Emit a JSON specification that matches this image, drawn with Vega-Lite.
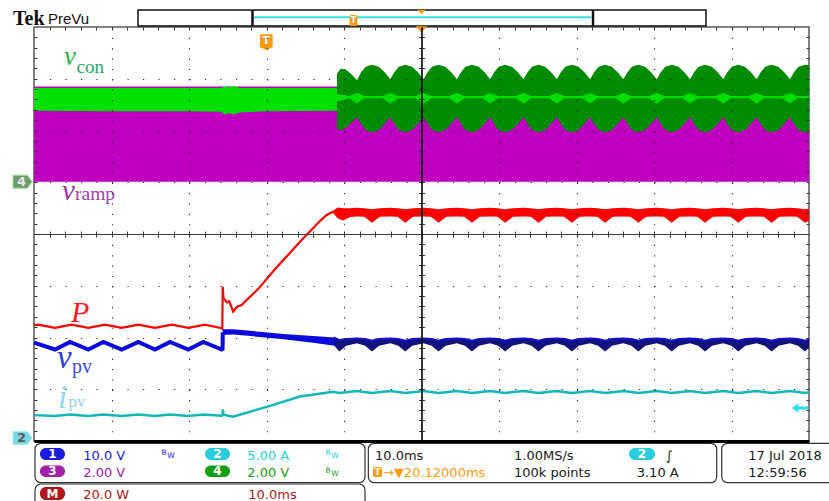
{
"$schema": "https://vega.github.io/schema/vega-lite/v6.json",
"width": 775,
"height": 414,
"autosize": {"type": "none"},
"padding": {"left": 34, "top": 27, "right": 20, "bottom": 60},
"background": "white",
"config": {"view": {"stroke": "#5a5a5a", "strokeWidth": 1.5}, "axis": {"labels": false, "title": null, "ticks": false, "domain": false, "grid": false}},
"datasets": {
"pu": [{"t":0,"v":2.85,"v2":1.01},{"t":100,"v":2.85,"v2":1.01}],
"lg1": [{"t":0,"v":2.82,"v2":2.38},{"t":10,"v":2.82,"v2":2.37},{"t":20,"v":2.82,"v2":2.37},{"t":24.2,"v":2.82,"v2":2.36},{"t":24.6,"v":2.86,"v2":2.31},{"t":25.2,"v":2.83,"v2":2.34},{"t":25.8,"v":2.86,"v2":2.31},{"t":26.5,"v":2.82,"v2":2.35},{"t":30,"v":2.82,"v2":2.37},{"t":39.1,"v":2.82,"v2":2.38}],
"dg": [{"t":39.1,"v":3.1,"v2":2.04},{"t":39.6,"v":3.2,"v2":2.0},{"t":40.3,"v":3.17,"v2":2.06},{"t":41.0,"v":3.08,"v2":2.16},{"t":41.68,"v":2.97,"v2":2.26},{"t":42.18,"v":3.12,"v2":2.13},{"t":42.78,"v":3.23,"v2":2.01},{"t":43.62,"v":3.27,"v2":1.96},{"t":44.48,"v":3.23,"v2":2.01},{"t":45.28,"v":3.12,"v2":2.13},{"t":45.97,"v":2.99,"v2":2.26},{"t":46.47,"v":3.12,"v2":2.13},{"t":47.07,"v":3.23,"v2":2.01},{"t":47.91,"v":3.27,"v2":1.96},{"t":48.77,"v":3.23,"v2":2.01},{"t":49.57,"v":3.12,"v2":2.13},{"t":50.27,"v":2.99,"v2":2.26},{"t":50.77,"v":3.12,"v2":2.13},{"t":51.37,"v":3.23,"v2":2.01},{"t":52.21,"v":3.27,"v2":1.96},{"t":53.07,"v":3.23,"v2":2.01},{"t":53.87,"v":3.12,"v2":2.13},{"t":54.57,"v":2.99,"v2":2.26},{"t":55.07,"v":3.12,"v2":2.13},{"t":55.67,"v":3.23,"v2":2.01},{"t":56.51,"v":3.27,"v2":1.96},{"t":57.37,"v":3.23,"v2":2.01},{"t":58.17,"v":3.12,"v2":2.13},{"t":58.86,"v":2.99,"v2":2.26},{"t":59.36,"v":3.12,"v2":2.13},{"t":59.96,"v":3.23,"v2":2.01},{"t":60.8,"v":3.27,"v2":1.96},{"t":61.66,"v":3.23,"v2":2.01},{"t":62.46,"v":3.12,"v2":2.13},{"t":63.16,"v":2.99,"v2":2.26},{"t":63.66,"v":3.12,"v2":2.13},{"t":64.26,"v":3.23,"v2":2.01},{"t":65.1,"v":3.27,"v2":1.96},{"t":65.96,"v":3.23,"v2":2.01},{"t":66.76,"v":3.12,"v2":2.13},{"t":67.46,"v":2.99,"v2":2.26},{"t":67.96,"v":3.12,"v2":2.13},{"t":68.56,"v":3.23,"v2":2.01},{"t":69.4,"v":3.27,"v2":1.96},{"t":70.26,"v":3.23,"v2":2.01},{"t":71.06,"v":3.12,"v2":2.13},{"t":71.75,"v":2.99,"v2":2.26},{"t":72.25,"v":3.12,"v2":2.13},{"t":72.85,"v":3.23,"v2":2.01},{"t":73.69,"v":3.27,"v2":1.96},{"t":74.55,"v":3.23,"v2":2.01},{"t":75.35,"v":3.12,"v2":2.13},{"t":76.05,"v":2.99,"v2":2.26},{"t":76.55,"v":3.12,"v2":2.13},{"t":77.15,"v":3.23,"v2":2.01},{"t":77.99,"v":3.27,"v2":1.96},{"t":78.85,"v":3.23,"v2":2.01},{"t":79.65,"v":3.12,"v2":2.13},{"t":80.35,"v":2.99,"v2":2.26},{"t":80.85,"v":3.12,"v2":2.13},{"t":81.45,"v":3.23,"v2":2.01},{"t":82.29,"v":3.27,"v2":1.96},{"t":83.15,"v":3.23,"v2":2.01},{"t":83.95,"v":3.12,"v2":2.13},{"t":84.65,"v":2.99,"v2":2.26},{"t":85.15,"v":3.12,"v2":2.13},{"t":85.75,"v":3.23,"v2":2.01},{"t":86.59,"v":3.27,"v2":1.96},{"t":87.45,"v":3.23,"v2":2.01},{"t":88.25,"v":3.12,"v2":2.13},{"t":88.94,"v":2.99,"v2":2.26},{"t":89.44,"v":3.12,"v2":2.13},{"t":90.04,"v":3.23,"v2":2.01},{"t":90.88,"v":3.27,"v2":1.96},{"t":91.74,"v":3.23,"v2":2.01},{"t":92.54,"v":3.12,"v2":2.13},{"t":93.24,"v":2.99,"v2":2.26},{"t":93.74,"v":3.12,"v2":2.13},{"t":94.34,"v":3.23,"v2":2.01},{"t":95.18,"v":3.27,"v2":1.96},{"t":96.04,"v":3.23,"v2":2.01},{"t":96.84,"v":3.12,"v2":2.13},{"t":97.54,"v":2.99,"v2":2.26},{"t":98.04,"v":3.12,"v2":2.13},{"t":98.64,"v":3.23,"v2":2.01},{"t":99.48,"v":3.27,"v2":1.96},{"t":100,"v":3.26,"v2":1.97}],
"lg2": [{"t":39.1,"v":2.7,"v2":2.56},{"t":40.2,"v":2.68,"v2":2.6},{"t":40.68,"v":2.665,"v2":2.625},{"t":41.68,"v":2.725,"v2":2.52},{"t":42.68,"v":2.665,"v2":2.625},{"t":44.97,"v":2.665,"v2":2.625},{"t":45.97,"v":2.725,"v2":2.52},{"t":46.97,"v":2.665,"v2":2.625},{"t":49.27,"v":2.665,"v2":2.625},{"t":50.27,"v":2.725,"v2":2.52},{"t":51.27,"v":2.665,"v2":2.625},{"t":53.57,"v":2.665,"v2":2.625},{"t":54.57,"v":2.725,"v2":2.52},{"t":55.57,"v":2.665,"v2":2.625},{"t":57.86,"v":2.665,"v2":2.625},{"t":58.86,"v":2.725,"v2":2.52},{"t":59.86,"v":2.665,"v2":2.625},{"t":62.16,"v":2.665,"v2":2.625},{"t":63.16,"v":2.725,"v2":2.52},{"t":64.16,"v":2.665,"v2":2.625},{"t":66.46,"v":2.665,"v2":2.625},{"t":67.46,"v":2.725,"v2":2.52},{"t":68.46,"v":2.665,"v2":2.625},{"t":70.75,"v":2.665,"v2":2.625},{"t":71.75,"v":2.725,"v2":2.52},{"t":72.75,"v":2.665,"v2":2.625},{"t":75.05,"v":2.665,"v2":2.625},{"t":76.05,"v":2.725,"v2":2.52},{"t":77.05,"v":2.665,"v2":2.625},{"t":79.35,"v":2.665,"v2":2.625},{"t":80.35,"v":2.725,"v2":2.52},{"t":81.35,"v":2.665,"v2":2.625},{"t":83.65,"v":2.665,"v2":2.625},{"t":84.65,"v":2.725,"v2":2.52},{"t":85.65,"v":2.665,"v2":2.625},{"t":87.94,"v":2.665,"v2":2.625},{"t":88.94,"v":2.725,"v2":2.52},{"t":89.94,"v":2.665,"v2":2.625},{"t":92.24,"v":2.665,"v2":2.625},{"t":93.24,"v":2.725,"v2":2.52},{"t":94.24,"v":2.665,"v2":2.625},{"t":96.54,"v":2.665,"v2":2.625},{"t":97.54,"v":2.725,"v2":2.52},{"t":98.54,"v":2.665,"v2":2.625},{"t":100,"v":2.66,"v2":2.63}],
"rl": [{"t":0,"v":-1.76},{"t":0.52,"v":-1.75},{"t":2.71,"v":-1.815},{"t":4.84,"v":-1.75},{"t":7.01,"v":-1.815},{"t":9.16,"v":-1.75},{"t":11.32,"v":-1.815},{"t":13.46,"v":-1.75},{"t":15.61,"v":-1.815},{"t":17.77,"v":-1.75},{"t":19.91,"v":-1.815},{"t":22.06,"v":-1.75},{"t":24.22,"v":-1.82},{"t":24.3,"v":-1.83},{"t":24.35,"v":-1.02},{"t":24.45,"v":-1.24},{"t":24.9,"v":-1.32},{"t":25.2,"v":-1.3},{"t":25.7,"v":-1.5},{"t":26.2,"v":-1.405},{"t":26.8,"v":-1.372},{"t":27.45,"v":-1.275},{"t":29.0,"v":-1.05},{"t":30.97,"v":-0.7},{"t":32.8,"v":-0.4},{"t":34.54,"v":-0.116},{"t":36.9,"v":0.25},{"t":37.76,"v":0.367},{"t":38.58,"v":0.43}],
"rb": [{"t":38.58,"v":0.45,"v2":0.41},{"t":39.2,"v":0.51,"v2":0.3},{"t":39.9,"v":0.5,"v2":0.26},{"t":40.8,"v":0.5,"v2":0.33},{"t":41.68,"v":0.505,"v2":0.34},{"t":42.62,"v":0.5,"v2":0.335},{"t":43.62,"v":0.48,"v2":0.215},{"t":44.62,"v":0.5,"v2":0.335},{"t":45.97,"v":0.505,"v2":0.34},{"t":46.91,"v":0.5,"v2":0.335},{"t":47.91,"v":0.48,"v2":0.215},{"t":48.91,"v":0.5,"v2":0.335},{"t":50.27,"v":0.505,"v2":0.34},{"t":51.21,"v":0.5,"v2":0.335},{"t":52.21,"v":0.48,"v2":0.215},{"t":53.21,"v":0.5,"v2":0.335},{"t":54.57,"v":0.505,"v2":0.34},{"t":55.51,"v":0.5,"v2":0.335},{"t":56.51,"v":0.48,"v2":0.215},{"t":57.51,"v":0.5,"v2":0.335},{"t":58.86,"v":0.505,"v2":0.34},{"t":59.8,"v":0.5,"v2":0.335},{"t":60.8,"v":0.48,"v2":0.215},{"t":61.8,"v":0.5,"v2":0.335},{"t":63.16,"v":0.505,"v2":0.34},{"t":64.1,"v":0.5,"v2":0.335},{"t":65.1,"v":0.48,"v2":0.215},{"t":66.1,"v":0.5,"v2":0.335},{"t":67.46,"v":0.505,"v2":0.34},{"t":68.4,"v":0.5,"v2":0.335},{"t":69.4,"v":0.48,"v2":0.215},{"t":70.4,"v":0.5,"v2":0.335},{"t":71.75,"v":0.505,"v2":0.34},{"t":72.69,"v":0.5,"v2":0.335},{"t":73.69,"v":0.48,"v2":0.215},{"t":74.69,"v":0.5,"v2":0.335},{"t":76.05,"v":0.505,"v2":0.34},{"t":76.99,"v":0.5,"v2":0.335},{"t":77.99,"v":0.48,"v2":0.215},{"t":78.99,"v":0.5,"v2":0.335},{"t":80.35,"v":0.505,"v2":0.34},{"t":81.29,"v":0.5,"v2":0.335},{"t":82.29,"v":0.48,"v2":0.215},{"t":83.29,"v":0.5,"v2":0.335},{"t":84.65,"v":0.505,"v2":0.34},{"t":85.59,"v":0.5,"v2":0.335},{"t":86.59,"v":0.48,"v2":0.215},{"t":87.59,"v":0.5,"v2":0.335},{"t":88.94,"v":0.505,"v2":0.34},{"t":89.88,"v":0.5,"v2":0.335},{"t":90.88,"v":0.48,"v2":0.215},{"t":91.88,"v":0.5,"v2":0.335},{"t":93.24,"v":0.505,"v2":0.34},{"t":94.18,"v":0.5,"v2":0.335},{"t":95.18,"v":0.48,"v2":0.215},{"t":96.18,"v":0.5,"v2":0.335},{"t":97.54,"v":0.505,"v2":0.34},{"t":98.48,"v":0.5,"v2":0.335},{"t":99.48,"v":0.48,"v2":0.215},{"t":100,"v":0.49,"v2":0.25}],
"bl": [{"t":0,"v":-2.1},{"t":2.71,"v":-2.232},{"t":4.65,"v":-2.087},{"t":7.01,"v":-2.232},{"t":8.94,"v":-2.087},{"t":11.32,"v":-2.232},{"t":13.46,"v":-2.087},{"t":15.61,"v":-2.232},{"t":17.55,"v":-2.087},{"t":19.91,"v":-2.232},{"t":21.85,"v":-2.087},{"t":24.22,"v":-2.232},{"t":24.33,"v":-2.22},{"t":24.36,"v":-1.9}],
"bd": [{"t":24.35,"v":-1.84,"v2":-1.95},{"t":25.7,"v":-1.84,"v2":-1.94},{"t":32.2,"v":-1.93,"v2":-2.035},{"t":36.0,"v":-1.97,"v2":-2.1},{"t":38.8,"v":-2.0,"v2":-2.16}],
"nb": [{"t":38.7,"v":-2.0,"v2":-2.15},{"t":39.4,"v":-2.05,"v2":-2.27},{"t":40.3,"v":-2.03,"v2":-2.16},{"t":41.68,"v":-2.02,"v2":-2.11},{"t":42.72,"v":-2.03,"v2":-2.16},{"t":43.62,"v":-2.06,"v2":-2.27},{"t":44.52,"v":-2.03,"v2":-2.16},{"t":45.97,"v":-2.02,"v2":-2.11},{"t":47.01,"v":-2.03,"v2":-2.16},{"t":47.91,"v":-2.06,"v2":-2.27},{"t":48.81,"v":-2.03,"v2":-2.16},{"t":50.27,"v":-2.02,"v2":-2.11},{"t":51.31,"v":-2.03,"v2":-2.16},{"t":52.21,"v":-2.06,"v2":-2.27},{"t":53.11,"v":-2.03,"v2":-2.16},{"t":54.57,"v":-2.02,"v2":-2.11},{"t":55.61,"v":-2.03,"v2":-2.16},{"t":56.51,"v":-2.06,"v2":-2.27},{"t":57.41,"v":-2.03,"v2":-2.16},{"t":58.86,"v":-2.02,"v2":-2.11},{"t":59.9,"v":-2.03,"v2":-2.16},{"t":60.8,"v":-2.06,"v2":-2.27},{"t":61.7,"v":-2.03,"v2":-2.16},{"t":63.16,"v":-2.02,"v2":-2.11},{"t":64.2,"v":-2.03,"v2":-2.16},{"t":65.1,"v":-2.06,"v2":-2.27},{"t":66.0,"v":-2.03,"v2":-2.16},{"t":67.46,"v":-2.02,"v2":-2.11},{"t":68.5,"v":-2.03,"v2":-2.16},{"t":69.4,"v":-2.06,"v2":-2.27},{"t":70.3,"v":-2.03,"v2":-2.16},{"t":71.75,"v":-2.02,"v2":-2.11},{"t":72.79,"v":-2.03,"v2":-2.16},{"t":73.69,"v":-2.06,"v2":-2.27},{"t":74.59,"v":-2.03,"v2":-2.16},{"t":76.05,"v":-2.02,"v2":-2.11},{"t":77.09,"v":-2.03,"v2":-2.16},{"t":77.99,"v":-2.06,"v2":-2.27},{"t":78.89,"v":-2.03,"v2":-2.16},{"t":80.35,"v":-2.02,"v2":-2.11},{"t":81.39,"v":-2.03,"v2":-2.16},{"t":82.29,"v":-2.06,"v2":-2.27},{"t":83.19,"v":-2.03,"v2":-2.16},{"t":84.65,"v":-2.02,"v2":-2.11},{"t":85.69,"v":-2.03,"v2":-2.16},{"t":86.59,"v":-2.06,"v2":-2.27},{"t":87.49,"v":-2.03,"v2":-2.16},{"t":88.94,"v":-2.02,"v2":-2.11},{"t":89.98,"v":-2.03,"v2":-2.16},{"t":90.88,"v":-2.06,"v2":-2.27},{"t":91.78,"v":-2.03,"v2":-2.16},{"t":93.24,"v":-2.02,"v2":-2.11},{"t":94.28,"v":-2.03,"v2":-2.16},{"t":95.18,"v":-2.06,"v2":-2.27},{"t":96.08,"v":-2.03,"v2":-2.16},{"t":97.54,"v":-2.02,"v2":-2.11},{"t":98.58,"v":-2.03,"v2":-2.16},{"t":99.48,"v":-2.06,"v2":-2.27},{"t":100,"v":-2.04,"v2":-2.2}],
"cy": [{"t":0,"v":-3.5},{"t":2.71,"v":-3.515},{"t":4.65,"v":-3.49},{"t":7.01,"v":-3.515},{"t":8.94,"v":-3.49},{"t":11.32,"v":-3.515},{"t":13.46,"v":-3.49},{"t":15.61,"v":-3.515},{"t":17.55,"v":-3.49},{"t":19.91,"v":-3.515},{"t":21.85,"v":-3.49},{"t":24.22,"v":-3.51},{"t":24.33,"v":-3.5},{"t":24.36,"v":-3.39},{"t":24.45,"v":-3.49},{"t":25.68,"v":-3.53},{"t":30.02,"v":-3.34},{"t":34.32,"v":-3.14},{"t":38.6,"v":-3.05},{"t":39.4,"v":-3.07},{"t":41.68,"v":-3.035},{"t":43.62,"v":-3.07},{"t":45.97,"v":-3.035},{"t":47.91,"v":-3.07},{"t":50.27,"v":-3.035},{"t":52.21,"v":-3.07},{"t":54.57,"v":-3.035},{"t":56.51,"v":-3.07},{"t":58.86,"v":-3.035},{"t":60.8,"v":-3.07},{"t":63.16,"v":-3.035},{"t":65.1,"v":-3.07},{"t":67.46,"v":-3.035},{"t":69.4,"v":-3.07},{"t":71.75,"v":-3.035},{"t":73.69,"v":-3.07},{"t":76.05,"v":-3.035},{"t":77.99,"v":-3.07},{"t":80.35,"v":-3.035},{"t":82.29,"v":-3.07},{"t":84.65,"v":-3.035},{"t":86.59,"v":-3.07},{"t":88.94,"v":-3.035},{"t":90.88,"v":-3.07},{"t":93.24,"v":-3.035},{"t":95.18,"v":-3.07},{"t":97.54,"v":-3.035},{"t":99.48,"v":-3.07},{"t":100,"v":-3.06}],
"boxes": [{"t":0.13,"t2":42.71,"v":-4.044,"v2":-4.806},{"t":0.13,"t2":42.71,"v":-4.831,"v2":-5.4},{"t":43.14,"t2":88.09,"v":-4.044,"v2":-4.806},{"t":88.74,"t2":104,"v":-4.044,"v2":-4.806}],
"badges": [{"t":0.77,"t2":4.0,"v":-4.135,"v2":-4.367,"ch":"1"},{"t":22.06,"t2":25.29,"v":-4.135,"v2":-4.367,"ch":"2"},{"t":0.77,"t2":4.0,"v":-4.473,"v2":-4.696,"ch":"3"},{"t":22.06,"t2":25.29,"v":-4.473,"v2":-4.696,"ch":"4"},{"t":0.77,"t2":4.0,"v":-4.889,"v2":-5.14,"ch":"M"},{"t":76.77,"t2":80.13,"v":-4.135,"v2":-4.367,"ch":"2"}],
"badgetext": [{"t":2.385,"v":-4.251,"text":"1"},{"t":23.675,"v":-4.251,"text":"2"},{"t":2.385,"v":-4.585,"text":"3"},{"t":23.675,"v":-4.585,"text":"4"},{"t":2.385,"v":-5.015,"text":"M"},{"t":78.45,"v":-4.251,"text":"2"}],
"paneltext": [{"t":6.36,"v":-4.367,"text":"10.0 V","ch":"1"},{"t":27.52,"v":-4.367,"text":"5.00 A","ch":"2"},{"t":6.36,"v":-4.701,"text":"2.00 V","ch":"3"},{"t":27.52,"v":-4.701,"text":"2.00 V","ch":"4"},{"t":6.36,"v":-5.115,"text":"20.0 W","ch":"M"},{"t":27.65,"v":-5.115,"text":"10.0ms","ch":"M"},{"t":44.0,"v":-4.367,"text":"10.0ms","ch":"k"},{"t":61.94,"v":-4.367,"text":"1.00MS/s","ch":"k"},{"t":81.5,"v":-4.367,"text":"∫","ch":"k"},{"t":45.03,"v":-4.701,"text":"→▼20.12000ms","ch":"T"},{"t":61.94,"v":-4.701,"text":"100k points","ch":"k"},{"t":77.77,"v":-4.701,"text":"3.10 A","ch":"k"},{"t":92.17,"v":-4.367,"text":"17 Jul  2018","ch":"k"},{"t":92.17,"v":-4.701,"text":"12:59:56","ch":"k"}],
"bw": [{"t":16.45,"v":-4.27,"text":"B","ch":"1"},{"t":17.2,"v":-4.334,"text":"W","ch":"1"},{"t":37.6,"v":-4.27,"text":"B","ch":"2"},{"t":38.35,"v":-4.334,"text":"W","ch":"2"},{"t":37.6,"v":-4.609,"text":"B","ch":"4"},{"t":38.35,"v":-4.676,"text":"W","ch":"4"}]
},
"encoding": {
"x": {"field": "t", "type": "quantitative", "scale": {"domain": [0, 100], "nice": false, "zero": false}, "axis": null},
"y": {"field": "v", "type": "quantitative", "scale": {"domain": [-4, 4], "nice": false, "zero": false}, "axis": null}
},
"resolve": {"axis": {"x": "independent", "y": "independent"}},
"layer": [
{"data": {"name": "pu"}, "mark": {"type": "area", "color": "#c000c0"},
 "encoding": {
  "x": {"field": "t", "type": "quantitative", "scale": {"domain": [0, 100], "nice": false, "zero": false}, "axis": {"orient": "bottom", "values": [10,20,30,40,60,70,80,90], "grid": true, "gridColor": "#2a2a2a", "gridWidth": 1.2, "gridDash": [1.2, 9.15], "domain": true, "domainColor": "#000000", "domainWidth": 3, "ticks": false, "labels": false, "title": null, "zindex": 1}},
  "y": {"field": "v", "type": "quantitative", "scale": {"domain": [-4, 4], "nice": false, "zero": false}, "axis": {"orient": "left", "values": [-3,-2,-1,1,2,3], "grid": true, "gridColor": "#2a2a2a", "gridWidth": 1.2, "gridDash": [1.2, 14.3], "domain": false, "ticks": false, "labels": false, "title": null, "zindex": 1}},
  "y2": {"field": "v2"}}},
{"data": {"name": "lg1"}, "mark": {"type": "area", "color": "#00e000"},
 "encoding": {
  "x": {"field": "t", "type": "quantitative", "scale": {"domain": [0, 100], "nice": false, "zero": false}, "axis": {"orient": "top", "offset": -3, "values": [2,4,6,8,10,12,14,16,18,20,22,24,26,28,30,32,34,36,38,40,42,44,46,48,50,52,54,56,58,60,62,64,66,68,70,72,74,76,78,80,82,84,86,88,90,92,94,96,98], "ticks": true, "tickSize": 3, "tickColor": "#333333", "tickWidth": 1, "domain": false, "labels": false, "title": null, "zindex": 1}},
  "y": {"field": "v", "type": "quantitative", "scale": {"domain": [-4, 4], "nice": false, "zero": false}, "axis": {"orient": "left", "offset": -3, "values": [-3.8,-3.6,-3.4,-3.2,-3,-2.8,-2.6,-2.4,-2.2,-2,-1.8,-1.6,-1.4,-1.2,-1,-0.8,-0.6,-0.4,-0.2,0,0.2,0.4,0.6,0.8,1,1.2,1.4,1.6,1.8,2,2.2,2.4,2.6,2.8,3,3.2,3.4,3.6,3.8], "ticks": true, "tickSize": 3, "tickColor": "#333333", "tickWidth": 1, "domain": false, "labels": false, "title": null, "zindex": 1}},
  "y2": {"field": "v2"}}},
{"data": {"name": "dg"}, "mark": {"type": "area", "color": "#008c00"},
 "encoding": {
  "x": {"field": "t", "type": "quantitative", "scale": {"domain": [0, 100], "nice": false, "zero": false}, "axis": {"orient": "bottom", "offset": -207, "values": [2,4,6,8,10,12,14,16,18,20,22,24,26,28,30,32,34,36,38,40,42,44,46,48,50,52,54,56,58,60,62,64,66,68,70,72,74,76,78,80,82,84,86,88,90,92,94,96,98], "ticks": true, "tickSize": 3, "tickColor": "#333333", "tickWidth": 1, "domain": true, "domainColor": "#3a3a3a", "domainWidth": 1.2, "labels": false, "title": null, "zindex": 1}},
  "y": {"field": "v", "type": "quantitative", "scale": {"domain": [-4, 4], "nice": false, "zero": false}, "axis": {"orient": "right", "offset": -3, "values": [-3.8,-3.6,-3.4,-3.2,-3,-2.8,-2.6,-2.4,-2.2,-2,-1.8,-1.6,-1.4,-1.2,-1,-0.8,-0.6,-0.4,-0.2,0,0.2,0.4,0.6,0.8,1,1.2,1.4,1.6,1.8,2,2.2,2.4,2.6,2.8,3,3.2,3.4,3.6,3.8], "ticks": true, "tickSize": 3, "tickColor": "#333333", "tickWidth": 1, "domain": false, "labels": false, "title": null, "zindex": 1}},
  "y2": {"field": "v2"}}},
{"data": {"name": "lg2"}, "mark": {"type": "area", "color": "#00e000"},
 "encoding": {
  "x": {"field": "t", "type": "quantitative", "scale": {"domain": [0, 100], "nice": false, "zero": false}, "axis": {"orient": "top", "offset": -207, "values": [2,4,6,8,10,12,14,16,18,20,22,24,26,28,30,32,34,36,38,40,42,44,46,48,50,52,54,56,58,60,62,64,66,68,70,72,74,76,78,80,82,84,86,88,90,92,94,96,98], "ticks": true, "tickSize": 3, "tickColor": "#333333", "tickWidth": 1, "domain": false, "labels": false, "title": null, "zindex": 1}},
  "y": {"field": "v", "type": "quantitative", "scale": {"domain": [-4, 4], "nice": false, "zero": false}, "axis": {"orient": "left", "offset": -387.5, "values": [-3.8,-3.6,-3.4,-3.2,-3,-2.8,-2.6,-2.4,-2.2,-2,-1.8,-1.6,-1.4,-1.2,-1,-0.8,-0.6,-0.4,-0.2,0,0.2,0.4,0.6,0.8,1,1.2,1.4,1.6,1.8,2,2.2,2.4,2.6,2.8,3,3.2,3.4,3.6,3.8], "ticks": true, "tickSize": 3, "tickColor": "#333333", "tickWidth": 1, "domain": true, "domainColor": "#000000", "domainWidth": 1.6, "labels": false, "title": null, "zindex": 1}},
  "y2": {"field": "v2"}}},
{"data": {"name": "rl"}, "mark": {"type": "line", "color": "#ff0000", "strokeWidth": 2.2}},
{"data": {"name": "rb"}, "mark": {"type": "area", "color": "#ff0000"},
 "encoding": {
  "y": {"field": "v", "type": "quantitative", "scale": {"domain": [-4, 4], "nice": false, "zero": false}, "axis": {"orient": "right", "offset": -387.5, "values": [-3.8,-3.6,-3.4,-3.2,-3,-2.8,-2.6,-2.4,-2.2,-2,-1.8,-1.6,-1.4,-1.2,-1,-0.8,-0.6,-0.4,-0.2,0,0.2,0.4,0.6,0.8,1,1.2,1.4,1.6,1.8,2,2.2,2.4,2.6,2.8,3,3.2,3.4,3.6,3.8], "ticks": true, "tickSize": 3, "tickColor": "#333333", "tickWidth": 1, "domain": false, "labels": false, "title": null, "zindex": 1}},
  "y2": {"field": "v2"}}},
{"data": {"name": "bl"}, "mark": {"type": "line", "color": "#0a0ae0", "strokeWidth": 4}},
{"data": {"name": "bd"}, "mark": {"type": "area", "color": "#0a0ae0"}, "encoding": {"y2": {"field": "v2"}}},
{"data": {"name": "nb"}, "mark": {"type": "area", "color": "#12127a"}, "encoding": {"y2": {"field": "v2"}}},
{"data": {"name": "nb"}, "mark": {"type": "line", "color": "#1010d8", "strokeWidth": 2}},
{"data": {"name": "cy"}, "mark": {"type": "line", "color": "#10b8b8", "strokeWidth": 2.5}},
{"data": {"values": [{"t": 98.84, "v": -3.362}]}, "mark": {"type": "point", "shape": "M-1,0L-0.2,-0.6L-0.2,-0.2L1,-0.2L1,0.2L-0.2,0.2L-0.2,0.6Z", "size": 256, "filled": true, "color": "#20e0f0", "opacity": 1}},
{"data": {"values": [{"t": 3.87, "v": 3.266, "text": "v"}]}, "mark": {"type": "text", "font": "Liberation Serif", "fontStyle": "italic", "fontSize": 27, "align": "left", "baseline": "alphabetic", "color": "#1faf50"}, "encoding": {"text": {"field": "text"}}},
{"data": {"values": [{"t": 5.48, "v": 3.118, "text": "con"}]}, "mark": {"type": "text", "font": "Liberation Serif", "fontSize": 19, "align": "left", "baseline": "alphabetic", "color": "#25a870"}, "encoding": {"text": {"field": "text"}}},
{"data": {"values": [{"t": 3.61, "v": 0.657, "text": "v"}]}, "mark": {"type": "text", "font": "Liberation Serif", "fontStyle": "italic", "fontSize": 29, "align": "left", "baseline": "alphabetic", "color": "#9b30a8"}, "encoding": {"text": {"field": "text"}}},
{"data": {"values": [{"t": 5.29, "v": 0.657, "text": "ramp"}]}, "mark": {"type": "text", "font": "Liberation Serif", "fontSize": 19.5, "align": "left", "baseline": "alphabetic", "color": "#a040b0"}, "encoding": {"text": {"field": "text"}}},
{"data": {"values": [{"t": 4.77, "v": -1.7, "text": "P"}]}, "mark": {"type": "text", "font": "Liberation Serif", "fontStyle": "italic", "fontSize": 30, "align": "left", "baseline": "alphabetic", "color": "#ff1a1a"}, "encoding": {"text": {"field": "text"}}},
{"data": {"values": [{"t": 2.97, "v": -2.589, "text": "v"}]}, "mark": {"type": "text", "font": "Liberation Serif", "fontStyle": "italic", "fontSize": 33, "align": "left", "baseline": "alphabetic", "color": "#2a3be0"}, "encoding": {"text": {"field": "text"}}},
{"data": {"values": [{"t": 4.9, "v": -2.68, "text": "pv"}]}, "mark": {"type": "text", "font": "Liberation Serif", "fontSize": 20, "align": "left", "baseline": "alphabetic", "color": "#3a4ad8"}, "encoding": {"text": {"field": "text"}}},
{"data": {"values": [{"t": 3.1, "v": -3.362, "text": "i"}]}, "mark": {"type": "text", "font": "Liberation Serif", "fontStyle": "italic", "fontSize": 33, "align": "left", "baseline": "alphabetic", "color": "#8ed8f0"}, "encoding": {"text": {"field": "text"}}},
{"data": {"values": [{"t": 4.45, "v": -3.343, "text": "pv"}]}, "mark": {"type": "text", "font": "Liberation Serif", "fontSize": 17, "align": "left", "baseline": "alphabetic", "color": "#9ad0e8"}, "encoding": {"text": {"field": "text"}}},
{"data": {"values": [{"t": -1.48, "v": 1.011}]}, "mark": {"type": "point", "shape": "M-1,-0.68L0.5,-0.68L1,0L0.5,0.68L-1,0.68Z", "size": 361, "filled": true, "fill": "#6f9a6f", "stroke": "#8fe08f", "strokeWidth": 1, "opacity": 1}},
{"data": {"values": [{"t": -1.62, "v": 1.0, "text": "4"}]}, "mark": {"type": "text", "font": "DejaVu Sans", "fontWeight": "bold", "fontSize": 13, "align": "center", "baseline": "middle", "color": "#e6e6e6"}, "encoding": {"text": {"field": "text"}}},
{"data": {"values": [{"t": -1.48, "v": -3.942}]}, "mark": {"type": "point", "shape": "M-1,-0.68L0.5,-0.68L1,0L0.5,0.68L-1,0.68Z", "size": 361, "filled": true, "fill": "#7ad8e4", "stroke": "#a0f0f8", "strokeWidth": 1, "opacity": 1}},
{"data": {"values": [{"t": -1.62, "v": -3.95, "text": "2"}]}, "mark": {"type": "text", "font": "DejaVu Sans", "fontWeight": "bold", "fontSize": 13, "align": "center", "baseline": "middle", "color": "#5a5a5a"}, "encoding": {"text": {"field": "text"}}},
{"data": {"values": [{"t": -2.71, "v": 4.039, "text": "Tek"}]}, "mark": {"type": "text", "font": "Liberation Serif", "fontWeight": "bold", "fontSize": 20, "align": "left", "baseline": "alphabetic", "color": "#111111"}, "encoding": {"text": {"field": "text"}}},
{"data": {"values": [{"t": 1.81, "v": 4.058, "text": "PreVu"}]}, "mark": {"type": "text", "font": "Liberation Sans Narrow, Liberation Sans", "fontSize": 15, "align": "left", "baseline": "alphabetic", "color": "#111111"}, "encoding": {"text": {"field": "text"}}},
{"data": {"values": [{"t": 13.42, "t2": 86.71, "v": 4.329, "v2": 4.019}]}, "mark": {"type": "rect", "fill": "#ffffff", "stroke": "#111111", "strokeWidth": 1.5}, "encoding": {"x2": {"field": "t2"}, "y2": {"field": "v2"}}},
{"data": {"values": [{"t": 28.4, "t2": 71.9, "v": 4.187}]}, "mark": {"type": "rule", "color": "#30e0e0", "strokeWidth": 2}, "encoding": {"x2": {"field": "t2"}}},
{"data": {"values": [{"t": 28.19, "v": 4.329, "v2": 4.019}, {"t": 72.13, "v": 4.329, "v2": 4.019}]}, "mark": {"type": "rule", "color": "#111111", "strokeWidth": 2.5}, "encoding": {"y2": {"field": "v2"}}},
{"data": {"values": [{"t": 40.71, "t2": 41.74, "v": 4.232, "v2": 4.019}]}, "mark": {"type": "rect", "fill": "#ff9a10", "cornerRadius": 2}, "encoding": {"x2": {"field": "t2"}, "y2": {"field": "v2"}}},
{"data": {"values": [{"t": 41.22, "v": 4.125, "text": "T"}]}, "mark": {"type": "text", "font": "DejaVu Sans", "fontWeight": "bold", "fontSize": 8, "align": "center", "baseline": "middle", "color": "#ffffff"}, "encoding": {"text": {"field": "text"}}},
{"data": {"values": [{"t": 50.0, "v": 4.29}]}, "mark": {"type": "point", "shape": "M-1,-0.55L1,-0.55L0,0.55Z", "size": 69, "filled": true, "color": "#ff9a10", "opacity": 1}},
{"data": {"values": [{"t": 50.0, "v": 3.952}]}, "mark": {"type": "point", "shape": "M-1,-0.55L1,-0.55L0,0.55Z", "size": 137, "filled": true, "color": "#ff9a10", "opacity": 1}},
{"data": {"values": [{"t": 29.98, "v": 3.706}]}, "mark": {"type": "point", "shape": "M-0.8,-1L0.8,-1L0.8,0.6L0,1L-0.8,0.6Z", "size": 252, "filled": true, "color": "#ff9a10", "opacity": 1}},
{"data": {"values": [{"t": 29.98, "v": 3.73, "text": "T"}]}, "mark": {"type": "text", "font": "DejaVu Sans", "fontWeight": "bold", "fontSize": 11, "align": "center", "baseline": "middle", "color": "#ffffff"}, "encoding": {"text": {"field": "text"}}},
{"data": {"name": "boxes"}, "mark": {"type": "rect", "filled": false, "color": "#333333", "strokeWidth": 1.2, "cornerRadius": 6}, "encoding": {"x2": {"field": "t2"}, "y2": {"field": "v2"}}},
{"data": {"name": "badges"}, "mark": {"type": "rect", "cornerRadius": 6}, "encoding": {"x2": {"field": "t2"}, "y2": {"field": "v2"}, "color": {"field": "ch", "type": "nominal", "scale": {"domain": ["1","2","3","4","M","T","k"], "range": ["#1c1ce0","#28cedc","#a020a8","#12a012","#b01818","#ff9a10","#1a1a1a"]}, "legend": null}}},
{"data": {"name": "badgetext"}, "mark": {"type": "text", "font": "DejaVu Sans", "fontWeight": "bold", "fontSize": 12, "align": "center", "baseline": "middle", "color": "#ffffff"}, "encoding": {"text": {"field": "text"}}},
{"data": {"values": [{"t": 43.74, "t2": 44.9, "v": -4.502, "v2": -4.696}]}, "mark": {"type": "rect", "fill": "#ff9a10", "cornerRadius": 2}, "encoding": {"x2": {"field": "t2"}, "y2": {"field": "v2"}}},
{"data": {"values": [{"t": 44.32, "v": -4.6, "text": "T"}]}, "mark": {"type": "text", "font": "DejaVu Sans", "fontWeight": "bold", "fontSize": 9, "align": "center", "baseline": "middle", "color": "#ffffff"}, "encoding": {"text": {"field": "text"}}},
{"data": {"name": "paneltext"}, "mark": {"type": "text", "font": "DejaVu Sans", "fontSize": 13, "align": "left", "baseline": "alphabetic"}, "encoding": {"text": {"field": "text"}, "color": {"field": "ch", "type": "nominal", "scale": {"domain": ["1","2","3","4","M","T","k"], "range": ["#1c1ce0","#28cedc","#a020a8","#12a012","#b01818","#ff9a10","#1a1a1a"]}, "legend": null}}},
{"data": {"name": "bw"}, "mark": {"type": "text", "font": "DejaVu Sans", "fontSize": 7.5, "align": "left", "baseline": "alphabetic"}, "encoding": {"text": {"field": "text"}, "color": {"field": "ch", "type": "nominal", "scale": {"domain": ["1","2","3","4","M","T","k"], "range": ["#1c1ce0","#28cedc","#a020a8","#12a012","#b01818","#ff9a10","#1a1a1a"]}, "legend": null}}}
]
}
